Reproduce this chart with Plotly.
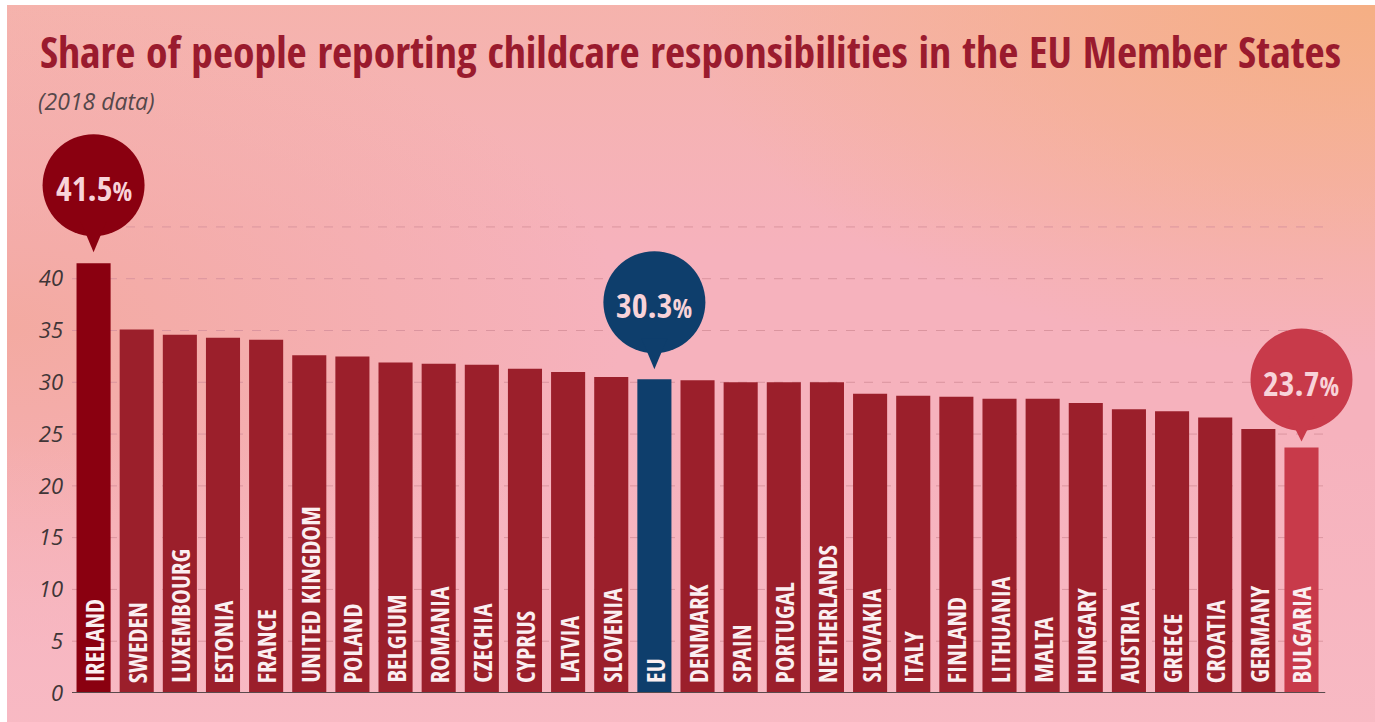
import base64
import plotly.graph_objects as go

# ---- data -------------------------------------------------------------
countries = [
    "IRELAND", "SWEDEN", "LUXEMBOURG", "ESTONIA", "FRANCE", "UNITED KINGDOM",
    "POLAND", "BELGIUM", "ROMANIA", "CZECHIA", "CYPRUS", "LATVIA", "SLOVENIA",
    "EU", "DENMARK", "SPAIN", "PORTUGAL", "NETHERLANDS", "SLOVAKIA", "ITALY",
    "FINLAND", "LITHUANIA", "MALTA", "HUNGARY", "AUSTRIA", "GREECE", "CROATIA",
    "GERMANY", "BULGARIA",
]
shares = [
    41.5, 35.1, 34.6, 34.3, 34.1, 32.6,
    32.5, 31.9, 31.8, 31.7, 31.3, 31.0, 30.5,
    30.3, 30.2, 30.0, 30.0, 30.0, 28.9, 28.7,
    28.6, 28.4, 28.4, 28.0, 27.4, 27.2, 26.6,
    25.5, 23.7,
]
y_tick_values = [0, 5, 10, 15, 20, 25, 30, 35, 40]
y_grid_values = [5, 10, 15, 20, 25, 30, 35, 40, 45]

# ---- styling ------------------------------------------------------------
W, H = 1375, 722
M_L, M_R, M_T, M_B = 8, 10, 113, 29
AXIS_PX = 72                  # where the value axis sits
Y_MAX = 56
BAR_PITCH_PX = 43.14          # horizontal space per category

BAR_RED = "#9B1F2B"
highlight = {
    "IRELAND": "#8A0010",
    "EU": "#0E3E6C",
    "BULGARIA": "#C83A4A",
}
# bubble placement above its bar: (circle centre lift, pointer-tip gap) in px
bubble_lift = {
    "IRELAND": (78, 11),
    "EU": (77, 10),
    "BULGARIA": (68, 6),
}
bar_colors = [highlight.get(c, BAR_RED) for c in countries]

COND = "Open Sans Condensed, Roboto Condensed, sans-serif"

# ---- background (soft pink with peach glow at the top) -------------------
svg = f"""<svg xmlns='http://www.w3.org/2000/svg' width='{W}' height='{H}' viewBox='0 0 {W} {H}' preserveAspectRatio='none'>
<defs>
<radialGradient id='tr' cx='1.0' cy='0.0' r='0.5' gradientUnits='objectBoundingBox'>
<stop offset='0' stop-color='#F5AF84' stop-opacity='1'/>
<stop offset='1' stop-color='#F5AF84' stop-opacity='0'/>
</radialGradient>
<radialGradient id='lf' cx='0.0' cy='0.45' r='0.45' gradientUnits='objectBoundingBox'>
<stop offset='0' stop-color='#F3A99E' stop-opacity='0.9'/>
<stop offset='1' stop-color='#F3A99E' stop-opacity='0'/>
</radialGradient>
<linearGradient id='tp' x1='0' y1='0' x2='0' y2='1'>
<stop offset='0' stop-color='#F5B3A8' stop-opacity='0.8'/>
<stop offset='0.35' stop-color='#F5B3A8' stop-opacity='0'/>
</linearGradient>
<linearGradient id='bt' x1='0' y1='0' x2='0' y2='1'>
<stop offset='0.6' stop-color='#F8BAC4' stop-opacity='0'/>
<stop offset='1' stop-color='#F8BAC4' stop-opacity='0.9'/>
</linearGradient>
</defs>
<rect width='{W}' height='{H}' fill='#F6B2BD'/>
<rect width='{W}' height='{H}' fill='url(#tp)'/>
<rect width='{W}' height='{H}' fill='url(#lf)'/>
<rect width='{W}' height='{H}' fill='url(#bt)'/>
<rect width='{W}' height='{H}' fill='url(#tr)'/>
</svg>"""
bg_uri = "data:image/svg+xml;base64," + base64.b64encode(svg.encode()).decode()

plot_w = W - M_L - M_R
plot_h = H - M_T - M_B
n = len(countries)
# extend the category range on both sides so the callouts are not clipped
x_min = -0.5 - (AXIS_PX - M_L) / BAR_PITCH_PX
x_max = x_min + plot_w / BAR_PITCH_PX


def px_to_paper_x(px):
    return (px - M_L) / plot_w


def px_to_paper_y(py):
    return (H - M_B - py) / plot_h


x_pos = list(range(n))

fig = go.Figure()
fig.add_trace(go.Bar(
    x=x_pos,
    y=shares,
    marker=dict(color=bar_colors, line=dict(width=0)),
    width=0.79,
    hoverinfo="skip",
))

annotations = []
shapes = []

# dashed gridlines and the baseline, spanning only the bar area
for g in y_grid_values:
    shapes.append(dict(
        type="line", xref="x", yref="y", x0=-0.5, x1=n - 0.5, y0=g, y1=g,
        line=dict(color="#DB959F", width=1, dash="dash"), layer="below",
    ))
shapes.append(dict(
    type="line", xref="x", yref="y", x0=-0.5, x1=n - 0.45, y0=0, y1=0,
    line=dict(color="#5A4A4C", width=2), layer="above",
))

# country names written upward inside each bar
for i, name in enumerate(countries):
    annotations.append(dict(
        x=i, y=0, xref="x", yref="y",
        text=name, textangle=-90,
        showarrow=False, xanchor="center", yanchor="bottom", yshift=8,
        font=dict(family=COND, size=25, color="#FBEFF1", weight="bold"),
    ))

# speech-bubble callouts above highlighted bars
R, BASE_DROP, BASE_HW = 51, 36, 13
for name in highlight:
    i = countries.index(name)
    v = shares[i]
    col = highlight[name]
    cy, tip = bubble_lift[name]
    base_y = cy - BASE_DROP
    shapes.append(dict(
        type="circle", xref="x", yref="y", xsizemode="pixel", ysizemode="pixel",
        xanchor=i, yanchor=v, x0=-R, x1=R, y0=cy - R, y1=cy + R,
        fillcolor=col, line=dict(width=0), layer="above",
    ))
    shapes.append(dict(
        type="path", xref="x", yref="y", xsizemode="pixel", ysizemode="pixel",
        xanchor=i, yanchor=v,
        path=f"M {-BASE_HW} {base_y} L {BASE_HW} {base_y} L 0 {tip} Z",
        fillcolor=col, line=dict(width=0), layer="above",
    ))
    annotations.append(dict(
        x=i, y=v, xref="x", yref="y", yshift=cy - 3,
        text=f"{v:.1f}<span style='font-size:26px;font-weight:600'>%</span>",
        showarrow=False, xanchor="center", yanchor="middle",
        font=dict(family=COND, size=34, color="#F8D3D9", weight="bold"),
    ))

# headline and note
annotations.append(dict(
    x=px_to_paper_x(38), y=px_to_paper_y(19), xref="paper", yref="paper",
    text="Share of people reporting childcare responsibilities in the EU Member States",
    showarrow=False, xanchor="left", yanchor="top",
    font=dict(family=COND, size=43.6, color="#9A1B2E", weight="bold"),
))
annotations.append(dict(
    x=px_to_paper_x(36), y=px_to_paper_y(83), xref="paper", yref="paper",
    text="(2018 data)",
    showarrow=False, xanchor="left", yanchor="top",
    font=dict(family="Open Sans, sans-serif", size=23, color="#55474A",
              style="italic", weight=400),
))

fig.update_layout(
    width=W, height=H,
    margin=dict(l=M_L, r=M_R, t=M_T, b=M_B, pad=0),
    paper_bgcolor="white",
    plot_bgcolor="rgba(0,0,0,0)",
    showlegend=False,
    annotations=annotations,
    shapes=shapes,
    images=[dict(
        source=bg_uri, xref="paper", yref="paper",
        x=px_to_paper_x(7), y=px_to_paper_y(5),
        sizex=(W - 7) / plot_w, sizey=(H - 5) / plot_h,
        xanchor="left", yanchor="top", sizing="stretch", layer="below",
    )],
    xaxis=dict(
        range=[x_min, x_max],
        showticklabels=False, showgrid=False, zeroline=False,
        showline=False, ticks="",
    ),
    yaxis=dict(
        range=[0, Y_MAX],
        anchor="free", position=px_to_paper_x(AXIS_PX),
        tickvals=y_tick_values,
        showgrid=False, zeroline=False,
        showline=False, ticks="", ticklabelstandoff=9,
        tickfont=dict(family="Open Sans, sans-serif", size=22, color="#3F3537",
                      style="italic", weight=400),
    ),
)

fig.write_html("out.html")
